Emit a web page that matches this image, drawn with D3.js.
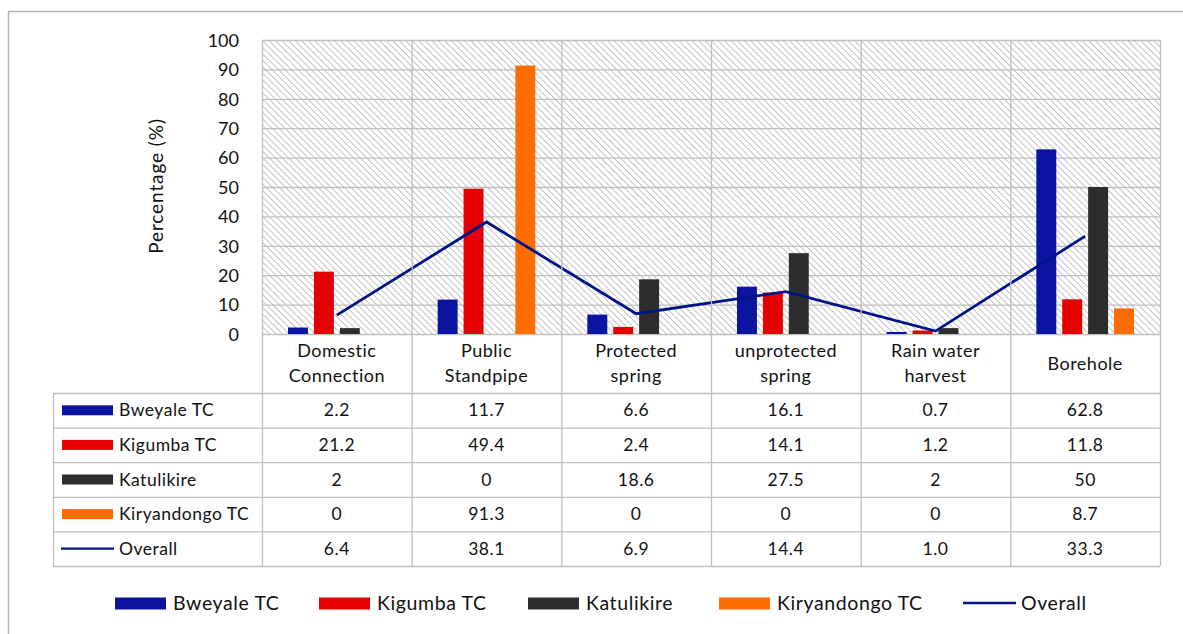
<!DOCTYPE html>
<html>
<head>
<meta charset="utf-8">
<script src="https://cdn.jsdelivr.net/npm/d3@7"></script>
<style>
  body { margin: 0; background: #fff; }
  svg text { font-family: Lato, "Open Sans", "DejaVu Sans", sans-serif; fill: #111; }
</style>
</head>
<body>
<svg id="chart" width="1183" height="634"></svg>
<script>
// data
var categories  = ['Domestic Connection', 'Public Standpipe', 'Protected spring', 'unprotected spring', 'Rain water harvest', 'Borehole'];
var catLines    = [['Domestic', 'Connection'], ['Public', 'Standpipe'], ['Protected', 'spring'], ['unprotected', 'spring'], ['Rain water', 'harvest'], ['Borehole']];
var seriesNames = ['Bweyale TC', 'Kigumba TC', 'Katulikire', 'Kiryandongo TC'];
var bweyale     = [2.2, 11.7, 6.6, 16.1, 0.7, 62.8];
var kigumba     = [21.2, 49.4, 2.4, 14.1, 1.2, 11.8];
var katulikire  = [2, 0, 18.6, 27.5, 2, 50];
var kiryandongo = [0, 91.3, 0, 0, 0, 8.7];
var overall     = [6.4, 38.1, 6.9, 14.4, 1.0, 33.3];
var overallText = ['6.4', '38.1', '6.9', '14.4', '1.0', '33.3'];
var yTicks      = [0, 10, 20, 30, 40, 50, 60, 70, 80, 90, 100];

var colors = ['#0a14a0', '#e40000', '#2d2d2d', '#ff6d00'];
var lineColor = '#001488';
var gridColor = '#bfbfbf';

var series = [bweyale, kigumba, katulikire, kiryandongo];

var svg = d3.select('#chart');

// outer frame
svg.append('rect')
    .attr('x', 8.5).attr('y', 11.5)
    .attr('width', 1190).attr('height', 640)
    .attr('fill', 'none').attr('stroke', '#b4b4b4').attr('stroke-width', 1.5);

// note: "top" is reserved on window, so use plot* names
var plotLeft = 262, plotRight = 1160, plotTop = 40, plotBottom = 334;

var x0 = d3.scaleBand().domain(categories).range([plotLeft, plotRight]).padding(0);
var x1 = d3.scaleBand().domain(seriesNames).range([26, x0.bandwidth() - 26]).paddingInner(0.23);
var y  = d3.scaleLinear().domain([0, 100]).range([plotBottom, plotTop]);

// hatched plot background
var defs = svg.append('defs');
var pat = defs.append('pattern')
    .attr('id', 'hatch')
    .attr('patternUnits', 'userSpaceOnUse')
    .attr('width', 4.6).attr('height', 4.6)
    .attr('patternTransform', 'rotate(-45)');
pat.append('rect').attr('width', 4.6).attr('height', 4.6).attr('fill', '#fff');
pat.append('line')
    .attr('x1', 0).attr('y1', 0).attr('x2', 0).attr('y2', 4.6)
    .attr('stroke', '#a9a9a9').attr('stroke-width', 1.4);

svg.append('rect')
    .attr('x', plotLeft).attr('y', plotTop)
    .attr('width', plotRight - plotLeft).attr('height', plotBottom - plotTop)
    .attr('fill', 'url(#hatch)');

// horizontal gridlines
svg.append('g').selectAll('line')
    .data(yTicks)
    .join('line')
    .attr('x1', plotLeft).attr('x2', plotRight)
    .attr('y1', function(d) { return y(d) + 0.5; })
    .attr('y2', function(d) { return y(d) + 0.5; })
    .attr('stroke', gridColor).attr('stroke-width', 1.3);

// y axis labels
var yAxis = d3.axisLeft(y).tickValues(yTicks).tickSize(0).tickPadding(0);
var yg = svg.append('g')
    .attr('transform', 'translate(239,0)')
    .call(yAxis);
yg.select('.domain').remove();
yg.selectAll('text')
    .style('font-size', '18px')
    .style('font-family', 'Lato, sans-serif')
    .attr('fill', '#111')
    .attr('dy', '0.35em');

svg.append('text')
    .attr('transform', 'translate(163,' + ((plotTop + plotBottom) / 2 - 1) + ') rotate(-90)')
    .attr('text-anchor', 'middle')
    .style('font-size', '19px')
    .style('letter-spacing', '0.9px')
    .text('Percentage (%)');

// bars
var groups = svg.append('g').selectAll('g')
    .data(categories)
    .join('g')
    .attr('transform', function(d) { return 'translate(' + x0(d) + ',0)'; });

groups.selectAll('rect')
    .data(function(d, i) {
        return seriesNames.map(function(s, j) { return { s: s, j: j, v: series[j][i] }; });
    })
    .join('rect')
    .attr('x', function(d) { return x1(d.s); })
    .attr('width', x1.bandwidth())
    .attr('y', function(d) { return y(d.v); })
    .attr('height', function(d) { return y(0) - y(d.v); })
    .attr('fill', function(d) { return colors[d.j]; });

// overall line
var line = d3.line()
    .x(function(d, i) { return x0(categories[i]) + x0.bandwidth() / 2; })
    .y(function(d) { return y(d); });

svg.append('path')
    .datum(overall)
    .attr('d', line)
    .attr('fill', 'none')
    .attr('stroke', lineColor)
    .attr('stroke-width', 2.8);

// data table
var tableLeft = 53;
var rowTop = 393, rowH = 34.6;
var rowLabels = seriesNames.concat(['Overall']);
var rowValues = series.map(function(s) { return s.map(String); }).concat([overallText]);
var tableBottom = rowTop + rowH * rowLabels.length;

var tg = svg.append('g');

// vertical lines at category boundaries (plot + table)
var bounds = categories.map(function(c) { return x0(c); }).concat([plotRight]);
tg.selectAll('line.v')
    .data(bounds)
    .join('line')
    .attr('class', 'v')
    .attr('x1', function(d) { return d + 0.5; }).attr('x2', function(d) { return d + 0.5; })
    .attr('y1', plotTop).attr('y2', tableBottom)
    .attr('stroke', gridColor).attr('stroke-width', 1.3);

tg.append('line')
    .attr('x1', tableLeft + 0.5).attr('x2', tableLeft + 0.5)
    .attr('y1', rowTop).attr('y2', tableBottom)
    .attr('stroke', gridColor).attr('stroke-width', 1.3);

tg.selectAll('line.h')
    .data(d3.range(rowLabels.length + 1))
    .join('line')
    .attr('class', 'h')
    .attr('x1', tableLeft).attr('x2', plotRight)
    .attr('y1', function(i) { return rowTop + i * rowH + 0.5; })
    .attr('y2', function(i) { return rowTop + i * rowH + 0.5; })
    .attr('stroke', gridColor).attr('stroke-width', 1.3);

// category labels
var catG = svg.append('g').selectAll('text')
    .data(catLines)
    .join('text')
    .attr('text-anchor', 'middle')
    .style('font-size', '18px')
    .style('letter-spacing', '0.5px')
    .attr('x', function(d, i) { return x0(categories[i]) + x0.bandwidth() / 2; })
    .attr('y', function(d) { return d.length === 1 ? 370 : 357; });
catG.selectAll('tspan')
    .data(function(d) { return d; })
    .join('tspan')
    .attr('x', function() { return d3.select(this.parentNode).attr('x'); })
    .attr('dy', function(d, i) { return i === 0 ? 0 : 25; })
    .text(function(d) { return d; });

// row labels with keys
rowLabels.forEach(function(name, r) {
    var cy = rowTop + r * rowH + rowH / 2;
    if (r < seriesNames.length) {
        tg.append('rect')
            .attr('x', 62).attr('y', cy - 5)
            .attr('width', 51).attr('height', 10)
            .attr('fill', colors[r]);
    } else {
        tg.append('line')
            .attr('x1', 61).attr('x2', 114)
            .attr('y1', cy).attr('y2', cy)
            .attr('stroke', lineColor).attr('stroke-width', 2.2);
    }
    tg.append('text')
        .attr('x', 119).attr('y', cy)
        .attr('dy', '0.35em')
        .style('font-size', '17.5px')
        .style('letter-spacing', '0.5px')
        .text(name);
    rowValues[r].forEach(function(v, i) {
        tg.append('text')
            .attr('x', x0(categories[i]) + x0.bandwidth() / 2)
            .attr('y', cy)
            .attr('dy', '0.35em')
            .attr('text-anchor', 'middle')
            .style('font-size', '17.5px')
            .style('letter-spacing', '0.5px')
            .text(v);
    });
});

// bottom legend
var legendItems = [
    { name: 'Bweyale TC', x: 115, c: colors[0] },
    { name: 'Kigumba TC', x: 319, c: colors[1] },
    { name: 'Katulikire', x: 528, c: colors[2] },
    { name: 'Kiryandongo TC', x: 719, c: colors[3] },
    { name: 'Overall', x: 963, c: lineColor, line: true }
];
var lg = svg.append('g');
legendItems.forEach(function(it) {
    if (it.line) {
        lg.append('line')
            .attr('x1', it.x).attr('x2', it.x + 53)
            .attr('y1', 603).attr('y2', 603)
            .attr('stroke', it.c).attr('stroke-width', 2.4);
    } else {
        lg.append('rect')
            .attr('x', it.x).attr('y', 597.5)
            .attr('width', 51).attr('height', 12)
            .attr('fill', it.c);
    }
    lg.append('text')
        .attr('x', it.x + 58).attr('y', 603)
        .attr('dy', '0.35em')
        .style('font-size', '19.5px')
        .style('letter-spacing', '0.6px')
        .text(it.name);
});
</script>
</body>
</html>
